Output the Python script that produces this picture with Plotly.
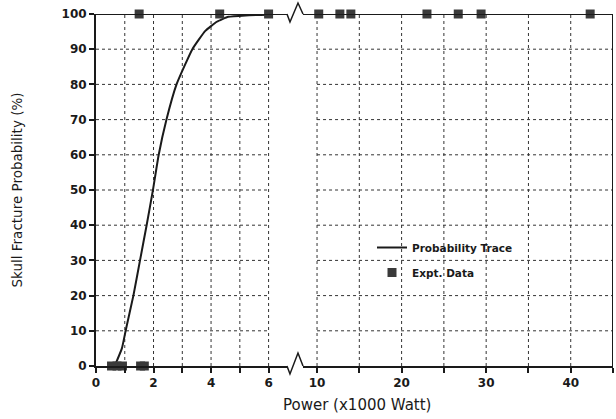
import plotly.graph_objects as go

# ---- data ----
trace_x = [0.65, 0.9, 1.03, 1.3, 1.53, 1.76, 1.98, 2.18, 2.45, 2.8, 3.35, 3.8, 4.2, 4.6, 5.2, 6.0]
trace_y = [0, 5, 10, 20, 30, 40, 50, 60, 70, 80, 90, 95.2, 97.8, 99.2, 99.6, 99.8]

expt_low_x = [0.54, 0.73, 0.92, 1.55, 1.68, 1.5, 4.3, 6.0]
expt_low_y = [0, 0, 0, 0, 0, 100, 100, 100]
expt_high_x = [10.2, 12.7, 14.0, 23.0, 26.7, 29.4, 42.3]
expt_high_y = [100, 100, 100, 100, 100, 100, 100]

y_ticks = [0, 10, 20, 30, 40, 50, 60, 70, 80, 90, 100]
x1_ticks = [0, 1, 2, 3, 4, 5, 6]
x1_labels = ["0", "", "2", "", "4", "", "6"]
x2_ticks = [10, 15, 20, 25, 30, 35, 40, 45]
x2_labels = ["10", "", "20", "", "30", "", "40", ""]

# ---- layout geometry (pixels) ----
W, H = 616, 419
L, R, T, B = 96, 3, 14, 53
pw, ph = W - L - R, H - T - B


def px(xp):
    return (xp - L) / pw


def py(yp):
    return (H - B - yp) / ph


FONT = "DejaVu Sans"
ink = "#1a1a1a"

fig = go.Figure()
fig.add_trace(go.Scatter(x=trace_x, y=trace_y, mode="lines", line=dict(color=ink, width=2, shape="spline", smoothing=0.4),
                         name="Probability Trace", legendgroup="a", xaxis="x", yaxis="y", cliponaxis=False))
fig.add_trace(go.Scatter(x=expt_low_x, y=expt_low_y, mode="markers",
                         marker=dict(symbol="square", size=9, color="#3a3a3a", line=dict(width=0)),
                         name="Expt. Data", legendgroup="b", xaxis="x", yaxis="y", cliponaxis=False))
fig.add_trace(go.Scatter(x=expt_high_x, y=expt_high_y, mode="markers",
                         marker=dict(symbol="square", size=9, color="#3a3a3a", line=dict(width=0)),
                         name="Expt. Data", legendgroup="b", showlegend=False, xaxis="x2", yaxis="y", cliponaxis=False))

shapes = []
dot = dict(color="#333333", width=1, dash="dot")
for yv in y_ticks[1:-1]:
    shapes.append(dict(type="line", xref="x", yref="y", x0=0, x1=6, y0=yv, y1=yv, line=dot, layer="below"))
    shapes.append(dict(type="line", xref="x2", yref="y", x0=10, x1=45, y0=yv, y1=yv, line=dot, layer="below"))
for xv in x1_ticks[1:]:
    shapes.append(dict(type="line", xref="x", yref="y", x0=xv, x1=xv, y0=0, y1=100, line=dot, layer="below"))
for xv in x2_ticks[:-1]:
    shapes.append(dict(type="line", xref="x2", yref="y", x0=xv, x1=xv, y0=0, y1=100, line=dot, layer="below"))

# legend background box
shapes.append(dict(type="rect", xref="paper", yref="paper", x0=px(360), x1=px(528), y0=py(295), y1=py(225),
                   fillcolor="white", line=dict(width=0), layer="below"))

# borders
solid = dict(color=ink, width=2)
shapes.append(dict(type="line", xref="x2", yref="y", x0=45, x1=45, y0=0, y1=100, line=solid))
shapes.append(dict(type="line", xref="x", yref="y", x0=0, x1=6.64, y0=100, y1=100, line=solid))
shapes.append(dict(type="line", xref="x2", yref="y", x0=8.34, x1=45, y0=100, y1=100, line=solid))


# break zigzags (paper coords)
def zig(pts):
    d = "M " + " L ".join(f"{px(a):.4f},{py(b):.4f}" for a, b in pts)
    return dict(type="path", xref="paper", yref="paper", path=d, line=dict(color=ink, width=1.5))


shapes.append(zig([(287, 366), (290, 374), (298, 353), (303, 366)]))
shapes.append(zig([(287, 14), (290, 22), (298, 3), (303, 14)]))

tickfont = dict(size=12, weight="bold")
fig.update_layout(
    width=W, height=H, margin=dict(l=L, r=R, t=T, b=B),
    paper_bgcolor="white", plot_bgcolor="white",
    font=dict(family=FONT, color=ink),
    showlegend=True,
    legend=dict(x=px(372), y=py(233), xanchor="left", yanchor="top", bgcolor="rgba(0,0,0,0)",
                font=dict(size=10.5, family=FONT, weight="bold"), itemwidth=30,
                tracegroupgap=6, borderwidth=0),
    xaxis=dict(domain=[0, px(287)], range=[0, 6.64], tickvals=x1_ticks, ticktext=x1_labels,
               showgrid=False, zeroline=False, showline=True, linecolor=ink, linewidth=2,
               ticks="outside", ticklen=5, tickcolor=ink, tickwidth=1.5,
               tickfont=tickfont, anchor="y"),
    xaxis2=dict(domain=[px(303), 1], range=[8.34, 45], tickvals=x2_ticks, ticktext=x2_labels,
                showgrid=False, zeroline=False, showline=True, linecolor=ink, linewidth=2,
                ticks="outside", ticklen=5, tickcolor=ink, tickwidth=1.5,
                tickfont=tickfont, anchor="y"),
    yaxis=dict(domain=[0, 1], range=[0, 100], tickvals=y_ticks,
               showgrid=False, zeroline=False, showline=True, linecolor=ink, linewidth=2,
               ticks="outside", ticklen=5, tickcolor=ink, tickwidth=1.5,
               tickfont=tickfont, anchor="x",
               title=dict(text="Skull Fracture Probability (%)", font=dict(size=13.5), standoff=36)),
    shapes=shapes,
    annotations=[dict(text="Power (x1000 Watt)", xref="paper", yref="paper", x=px(357), y=py(405),
                      xanchor="center", yanchor="middle", showarrow=False, font=dict(size=15))],
)

fig.write_html("out.html")
